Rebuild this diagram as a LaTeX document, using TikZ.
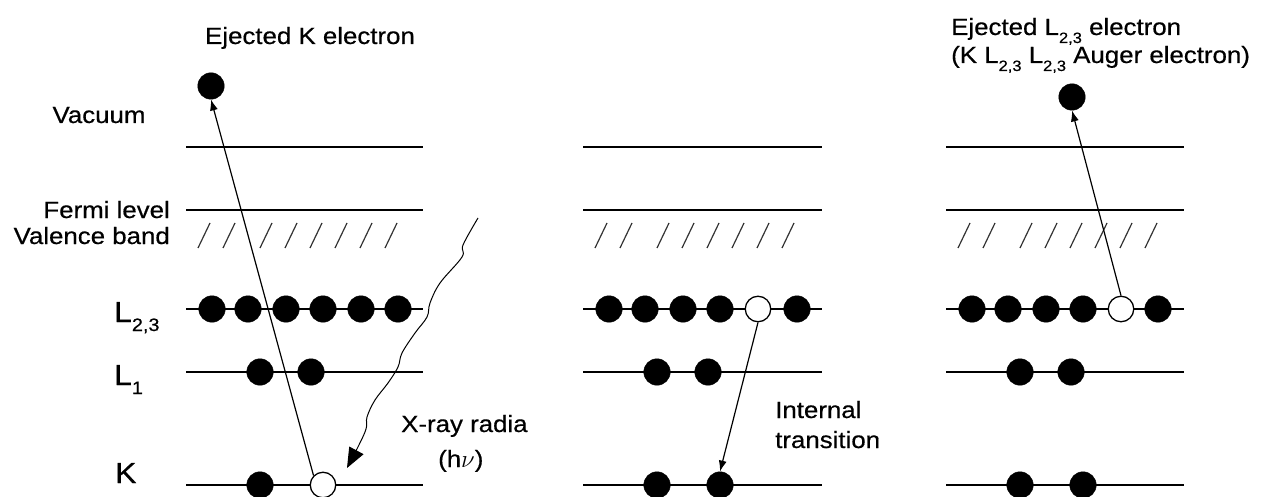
\documentclass[tikz,border=0pt]{standalone}
\usepackage{fontspec}
\setmainfont[FakeStretch=1.1,FakeBold=0.5]{Liberation Sans}
\usetikzlibrary{arrows.meta}
\newcommand\sbs[1]{\raisebox{-8pt}{\fontsize{15}{15}\selectfont #1}}
\newcommand\lsb[1]{\raisebox{-9pt}{\fontsize{18}{18}\selectfont #1}}
\begin{document}
\begin{tikzpicture}[x=1pt,y=-1pt,
  lvl/.style={line width=1.3pt},
  hatch/.style={line width=1.2pt, black!80},
  el/.style={circle, fill=black, draw=black, minimum size=26.5pt, inner sep=0pt},
  hole/.style={circle, fill=white, draw=black, line width=1.3pt, minimum size=25.5pt, inner sep=0pt},
  lbl/.style={font=\fontsize{23.5}{28}\selectfont, inner sep=0pt},
  big/.style={font=\fontsize{29}{32}\selectfont, inner sep=0pt},
  arr/.style={line width=1.2pt, -{Latex[length=11pt,width=8pt]}}]
\useasboundingbox (0,0) rectangle (1265,497);
% level lines and hatches
\foreach \o/\w in {0/237,397/239,760/238}{
  \foreach \y in {147,210,309,372,485}{
    \draw[lvl] (186+\o,\y) -- ++(\w,0);
  }
  \foreach \x in {198,223,260,285,310,335,360,385}{
    \draw[hatch] (\x+\o,248) -- ++(12,-25);
  }
}
% panel 1 electrons
\foreach \x [count=\i] in {212,248,286,323,361,398}{ \node[el] (a\i) at (\x,309) {}; }
\node[el] (ab1) at (260,372) {};
\node[el] (ab2) at (311,372) {};
\node[el] (ak1) at (260,485) {};
\node[hole] (akh) at (323,485) {};
\node[el] (ave) at (211,86) {};
% panel 2 electrons
\foreach \x [count=\i] in {609,645,683,720,797}{ \node[el] (b\i) at (\x,309) {}; }
\node[hole] (bh) at (758,309) {};
\node[el] (bb1) at (657,372) {};
\node[el] (bb2) at (708,372) {};
\node[el] (bk1) at (657,485) {};
\node[el] (bk2) at (720,485) {};
% panel 3 electrons
\foreach \x [count=\i] in {972,1008,1046,1083,1158}{ \node[el] (c\i) at (\x,309) {}; }
\node[hole] (ch) at (1121,309) {};
\node[el] (cb1) at (1020,372) {};
\node[el] (cb2) at (1071,372) {};
\node[el] (ck1) at (1020,485) {};
\node[el] (ck2) at (1083,485) {};
\node[el] (cve) at (1072,97) {};
% arrows
\draw[arr] (akh.135) -- (ave.south);
\draw[arr] (bh.south) -- (bk2.north);
\draw[arr] (ch.north) -- (cve.south);
% x-ray
\coordinate (xs) at (478,218);
\coordinate (xe) at (347,468);
\draw[line width=1pt, -{Triangle[length=20pt,width=16pt]}] plot[smooth, tension=0.6] coordinates {(xs) (463,245) (462,257) (440,283) (430,303) (427,317) (415,333) (402,353) (398,367) (388,383) (375,400) (367,417) (365,432) (xe)};
% labels
\node[lbl, anchor=base] (t1) at (310,44) {Ejected K electron};
\node[lbl, anchor=base] (t2) at (99,123) {Vacuum};
\node[lbl, anchor=base east] (t3) at (170,218) {Fermi level};
\node[lbl, anchor=base east] (t4) at (170,244) {Valence band};
\node[big, anchor=base west] (t5) at (114,322) {L\lsb{2,3}};
\node[big, anchor=base west] (t6) at (114,385) {L\lsb{1}};
\node[big, anchor=base west] (t7) at (115,483) {K};
\node[lbl, anchor=base west] (t8) at (401,432) {X-ray radia};
\node[lbl, anchor=base west] (t9) at (438,467) {(h$\nu$)};
\node[lbl, anchor=base west] (t10) at (775,418) {Internal};
\node[lbl, anchor=base west] (t11) at (775,448) {transition};
\node[lbl, anchor=base west] (t12) at (951,35) {Ejected L\sbs{2,3} electron};
\node[lbl, anchor=base west] (t13) at (951,63) {(K L\sbs{2,3} L\sbs{2,3} Auger electron)};
\end{tikzpicture}
\end{document}
